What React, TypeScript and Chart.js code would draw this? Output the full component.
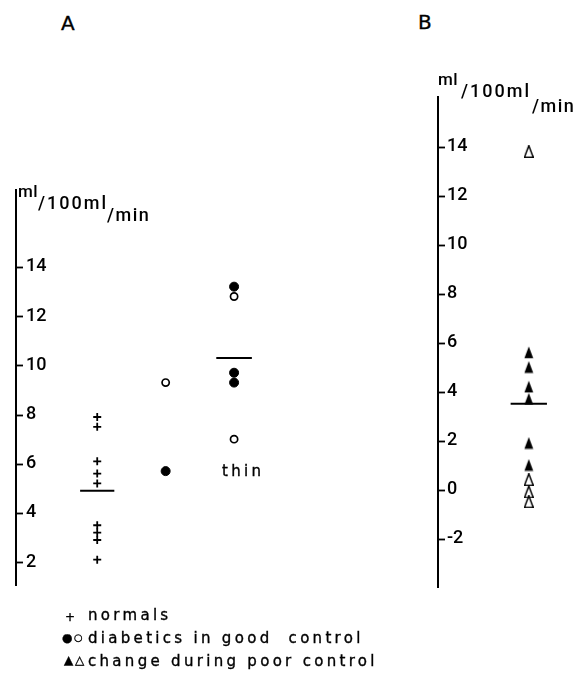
import React, { useEffect, useRef } from "react";
import { Chart, registerables } from "chart.js";
Chart.register(...registerables);

// ---------- Panel A data (ml/100ml/min) ----------
const normalsA = [7.9, 7.5, 6.1, 5.6, 5.2, 3.5, 3.2, 2.9, 2.1];
const goodFilledCol2 = [5.7];
const goodOpenCol2 = [9.3];
const goodFilledCol3 = [13.2, 9.7, 9.3];
const goodOpenCol3 = [12.8, 7.0];
const meanNormalsA = [4.9];
const meanCol3A = [10.3];
const ticksA = [2, 4, 6, 8, 10, 12, 14];

// ---------- Panel B data ----------
const poorFilledB = [5.6, 5.0, 4.2, 3.7, 1.9, 1.0];
const poorOpenB = [13.8, 0.4, -0.1, -0.5];
const meanB = [3.5];
const ticksB = [-2, 0, 2, 4, 6, 8, 10, 12, 14];

const TICK_FONT = { family: "Roboto", size: 18, weight: "500" } as const;
const TEXT_FONT = '"DejaVu Sans", sans-serif';

const tickMarks = {
  id: "tickMarks",
  afterDraw(chart: any) {
    const s = chart.scales.y;
    const ctx = chart.ctx;
    ctx.save();
    ctx.strokeStyle = "#000";
    ctx.lineWidth = 1.8;
    s.ticks.forEach((t: any) => {
      const py = Math.round(s.getPixelForValue(t.value)) + 0.5;
      ctx.beginPath();
      ctx.moveTo(s.right, py);
      ctx.lineTo(s.right + 7, py);
      ctx.stroke();
    });
    ctx.restore();
  },
};

function makeTriangle(filled: boolean) {
  const c = document.createElement("canvas");
  c.width = 10;
  c.height = 13;
  const g = c.getContext("2d")!;
  g.beginPath();
  g.moveTo(5, 0.6);
  g.lineTo(9.4, 12.3);
  g.lineTo(0.6, 12.3);
  g.closePath();
  if (filled) {
    g.fillStyle = "#000";
    g.fill();
  } else {
    g.fillStyle = "#fff";
    g.fill();
    g.lineWidth = 1.5;
    g.strokeStyle = "#000";
    g.stroke();
  }
  return c;
}

const pts = (x: number, ys: number[]) => ys.map((y) => ({ x, y }));
const meanLine = (x: number, half: number, m: number[]) => [
  { x: x - half, y: m[0] },
  { x: x + half, y: m[0] },
];

function yScale(min: number, max: number, ticks: number[], padding: number) {
  return {
    type: "linear" as const,
    position: "left" as const,
    min,
    max,
    afterBuildTicks: (s: any) => {
      s.ticks = ticks.map((v) => ({ value: v }));
    },
    grid: { display: true, drawOnChartArea: false, drawTicks: false },
    border: { display: true, color: "#000", width: 2 },
    ticks: {
      mirror: true,
      padding,
      color: "#000",
      font: TICK_FONT,
      callback: (v: any) => String(v),
    },
  };
}

export default function App() {
  const refA = useRef<HTMLCanvasElement>(null);
  const refB = useRef<HTMLCanvasElement>(null);

  useEffect(() => {
    const triFilled = makeTriangle(true);
    const triOpen = makeTriangle(false);

    const filledCircle = {
      pointStyle: "circle",
      pointRadius: 4.5,
      backgroundColor: "#000",
      borderColor: "#000",
      borderWidth: 1,
    };
    const openCircle = {
      pointStyle: "circle",
      pointRadius: 3.6,
      backgroundColor: "#fff",
      borderColor: "#000",
      borderWidth: 1.7,
    };
    const meanStyle = {
      showLine: true,
      pointRadius: 0,
      borderColor: "#000",
      borderWidth: 2,
    };

    const common = {
      animation: false as const,
      responsive: false,
      plugins: { legend: { display: false }, tooltip: { enabled: false } },
      events: [] as any[],
    };

    const chartA = new Chart(refA.current!, {
      type: "scatter",
      data: {
        datasets: [
          {
            data: pts(1, normalsA),
            pointStyle: "cross",
            pointRadius: 4,
            borderColor: "#000",
            borderWidth: 1.8,
          } as any,
          { data: pts(2, goodFilledCol2), ...filledCircle },
          { data: pts(2, goodOpenCol2), ...openCircle },
          { data: pts(3, goodFilledCol3), ...filledCircle },
          { data: pts(3, goodOpenCol3), ...openCircle },
          { data: meanLine(1, 0.25, meanNormalsA), ...meanStyle },
          { data: meanLine(3, 0.26, meanCol3A), ...meanStyle },
        ],
      },
      options: {
        ...common,
        layout: { padding: { left: 17, right: 0, top: 30, bottom: 30 } },
        scales: {
          x: { type: "linear", display: false, min: -0.187, max: 4.317 },
          y: yScale(1.07, 17.13, ticksA, 10),
        },
      } as any,
      plugins: [tickMarks],
    });

    const chartB = new Chart(refB.current!, {
      type: "scatter",
      data: {
        datasets: [
          { data: pts(1, poorFilledB), pointStyle: triFilled, pointRadius: 5 } as any,
          { data: pts(1, poorOpenB), pointStyle: triOpen, pointRadius: 5 } as any,
          { data: meanLine(1, 0.2, meanB), ...meanStyle },
        ],
      },
      options: {
        ...common,
        layout: { padding: { left: 38, right: 0, top: 30, bottom: 30 } },
        scales: {
          x: { type: "linear", display: false, min: 0, max: 1.531 },
          y: yScale(-3.98, 16.03, ticksB, 9),
        },
      } as any,
      plugins: [tickMarks],
    });

    return () => {
      chartA.destroy();
      chartB.destroy();
    };
  }, []);

  const txt = (
    s: string,
    left: number,
    top: number,
    size: number,
    family: string,
    ls = 0,
    weight = 400
  ) => (
    <div
      style={{
        position: "absolute",
        left,
        top,
        fontFamily: family,
        fontSize: size,
        fontWeight: weight,
        lineHeight: 1,
        letterSpacing: ls,
        whiteSpace: "pre",
        color: "#000",
        WebkitTextStroke: family === TEXT_FONT ? "0.35px #000" : undefined,
      }}
    >
      {s}
    </div>
  );

  return (
    <div
      style={{
        position: "absolute",
        left: 0,
        top: 0,
        width: 583,
        height: 678,
        background: "#fff",
        overflow: "hidden",
      }}
    >
      <canvas
        ref={refA}
        width={351}
        height={455}
        style={{ position: "absolute", left: -21, top: 160, width: 351, height: 455 }}
      />
      <canvas
        ref={refB}
        width={201}
        height={550}
        style={{ position: "absolute", left: 382, top: 67, width: 201, height: 550 }}
      />

      {txt("A", 61, 13, 20, TEXT_FONT)}
      {txt("B", 418, 12, 20, TEXT_FONT)}

      {/* axis titles */}
      {txt("ml", 18, 183, 17, "Roboto", 0.5, 500)}
      {txt("/100ml", 38, 194, 18, "Roboto", 2, 500)}
      {txt("/min", 107, 206, 18, "Roboto", 1.5, 500)}

      {txt("ml", 438, 71, 17, "Roboto", 0.5, 500)}
      {txt("/100ml", 461, 82, 18, "Roboto", 2, 500)}
      {txt("/min", 532, 97, 18, "Roboto", 1.5, 500)}

      {txt("thin", 222, 464, 15, TEXT_FONT, 3.3)}

      {/* legend */}
      {txt("+", 65, 611, 12, TEXT_FONT)}
      {txt("normals", 88, 608, 15, TEXT_FONT, 3.3)}
      {txt("●", 62, 632, 12, TEXT_FONT)}
      {txt("○", 74, 633, 10, TEXT_FONT)}
      {txt("diabetics in good  control", 88, 631, 15, TEXT_FONT, 3.3)}
      {txt("▲", 64, 654, 12, TEXT_FONT)}
      {txt("△", 75, 654, 12, TEXT_FONT)}
      {txt("change during poor control", 88, 654, 15, TEXT_FONT, 3.3)}
    </div>
  );
}
